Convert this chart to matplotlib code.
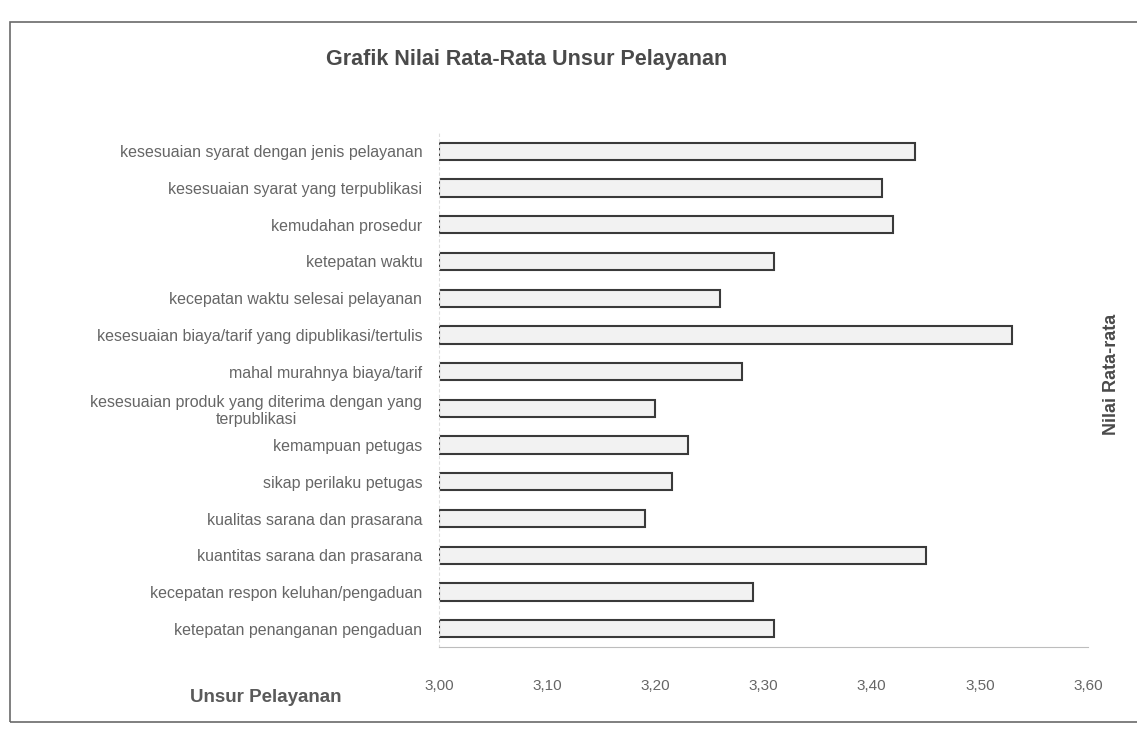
import matplotlib
matplotlib.use("Agg")
import matplotlib.pyplot as plt
from matplotlib.patches import Rectangle

plt.rcParams['font.family'] = ['Liberation Sans', 'DejaVu Sans']

categories = [
    "kesesuaian syarat dengan jenis pelayanan",
    "kesesuaian syarat yang terpublikasi",
    "kemudahan prosedur",
    "ketepatan waktu",
    "kecepatan waktu selesai pelayanan",
    "kesesuaian biaya/tarif yang dipublikasi/tertulis",
    "mahal murahnya biaya/tarif",
    "kesesuaian produk yang diterima dengan yang\nterpublikasi",
    "kemampuan petugas",
    "sikap perilaku petugas",
    "kualitas sarana dan prasarana",
    "kuantitas sarana dan prasarana",
    "kecepatan respon keluhan/pengaduan",
    "ketepatan penanganan pengaduan",
]
values = [3.44, 3.41, 3.42, 3.31, 3.26, 3.53, 3.28,
          3.20, 3.23, 3.215, 3.19, 3.45, 3.29, 3.31]
x_ticks = [3.00, 3.10, 3.20, 3.30, 3.40, 3.50, 3.60]
x_tick_labels = ["3,00", "3,10", "3,20", "3,30", "3,40", "3,50", "3,60"]

W, H = 1137, 732
fig = plt.figure(figsize=(W / 100, H / 100), dpi=100)
fig.patch.set_facecolor('white')

# outer frame of the chart
fig.patches.append(Rectangle((10 / W, 1 - 722 / H), (W + 20) / W, (722 - 22) / H,
                             transform=fig.transFigure, fill=False,
                             edgecolor='#6a6a6a', linewidth=1.2))

ax = fig.add_axes([439 / W, 1 - 647 / H, (1088 - 439) / W, (647 - 133) / H])
base = x_ticks[0]
ypos = list(range(len(categories)))
ax.barh(ypos, [v - base for v in values], left=base, height=0.47,
        color='#f2f2f2', edgecolor='#3a3a3a', linewidth=1.5)

ax.set_xlim(x_ticks[0], x_ticks[-1])
ax.set_ylim(len(categories) - 0.5, -0.5)
ax.set_xticks(x_ticks)
ax.set_xticklabels(x_tick_labels)
ax.set_yticks(ypos)
ax.set_yticklabels(categories, multialignment='center')
ax.tick_params(axis='x', length=0, pad=23, labelsize=11, labelcolor='#666666')
ax.tick_params(axis='y', length=0, pad=12, labelsize=11.5, labelcolor='#666666')

for side in ['top', 'right']:
    ax.spines[side].set_visible(False)
ax.spines['bottom'].set_color('#bdbdbd')
ax.spines['left'].set_color('#dddddd')
ax.spines['left'].set_linestyle((0, (2, 3)))

fig.text(527 / W, 1 - 59 / H, "Grafik Nilai Rata-Rata Unsur Pelayanan",
         ha='center', va='center', fontsize=15.5, fontweight='bold', color='#4a4a4a')
fig.text(190 / W, 1 - 697 / H, "Unsur Pelayanan", ha='left', va='center',
         fontsize=13.5, fontweight='bold', color='#5a5a5a')
fig.text(1112 / W, 1 - 374 / H, "Nilai Rata-rata", ha='center', va='center',
         rotation=90, fontsize=13, fontweight='bold', color='#4a4a4a')

fig.savefig("out.png", dpi=100, facecolor='white')
